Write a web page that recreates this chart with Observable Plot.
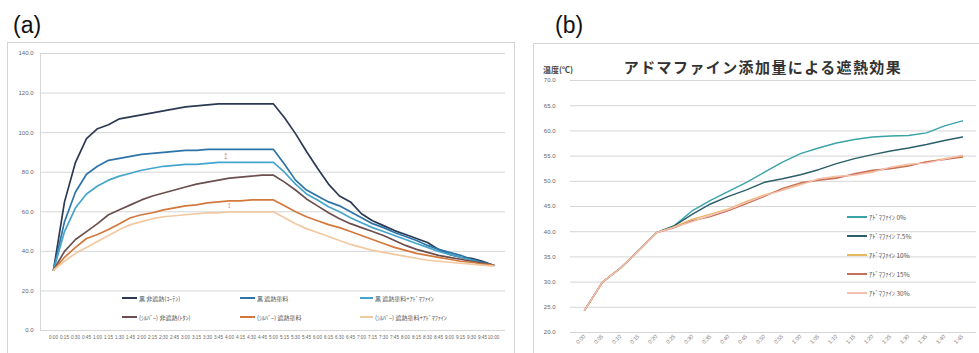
<!DOCTYPE html>
<html><head><meta charset="utf-8">
<script src="https://cdn.jsdelivr.net/npm/d3@7"></script>
<script src="https://cdn.jsdelivr.net/npm/@observablehq/plot@0.6"></script>
<style>
html,body{margin:0;padding:0;background:#fff;}
body{width:979px;height:353px;overflow:hidden;position:relative;font-family:"Liberation Sans",Arial,sans-serif;}
.abs{position:absolute;}
.panel{position:absolute;border:1px solid #d4d4d4;box-sizing:border-box;}
.lbl{position:absolute;font-size:23px;color:#111;font-family:"Liberation Sans",Arial,sans-serif;}
.leg{position:absolute;font-family:"Noto Sans CJK JP","Liberation Sans",sans-serif;color:#555;white-space:nowrap;display:flex;align-items:center;}
.leg .sw{display:inline-block;height:0;margin-right:2px;}
</style></head><body>
<div class="lbl" style="left:13px;top:12px;">(a)</div>
<div class="lbl" style="left:555px;top:12px;">(b)</div>
<div class="panel" style="left:7px;top:42px;width:508px;height:320px;"></div>
<div class="panel" style="left:533px;top:43px;width:460px;height:320px;"></div>
<div id="chartA" class="abs" style="left:7px;top:42px;"></div>
<div id="chartB" class="abs" style="left:535px;top:43px;"></div>
<div id="legA"></div>
<div id="legB"></div>
<div class="abs" style="left:763px;top:56px;transform:translateX(-50%);font-family:'Noto Sans CJK JP',sans-serif;font-weight:bold;font-size:15px;letter-spacing:1.4px;color:#333;white-space:nowrap;">アドマファイン添加量による遮熱効果</div>
<div class="abs" style="left:543px;top:64px;font-family:'Noto Sans CJK JP',sans-serif;font-weight:bold;font-size:8px;color:#444;">温度(℃)</div>
<div class="abs" style="left:223px;top:149px;font-size:11px;color:#e07a7a;">↕</div>
<div class="abs" style="left:227px;top:200px;font-size:9px;color:#e07a7a;">↕</div>
<script>
// ---------- Panel (a) ----------
const timeA = ["0:00","0:15","0:30","0:45","1:00","1:15","1:30","1:45","2:00","2:15","2:30","2:45","3:00","3:15","3:30","3:45","4:00","4:15","4:30","4:45","5:00","5:15","5:30","5:45","6:00","6:15","6:30","6:45","7:00","7:15","7:30","7:45","8:00","8:15","8:30","8:45","9:00","9:15","9:30","9:45","10:00"];
const yTicksA = [0,20,40,60,80,100,120,140];
const namesA = ["黒 非遮熱(ｺｰﾃﾝ)","黒 遮熱塗料","黒 遮熱塗料+ｱﾄﾞﾏﾌｧｲﾝ","(ｼﾙﾊﾞｰ) 非遮熱(ﾄﾀﾝ)","(ｼﾙﾊﾞｰ) 遮熱塗料","(ｼﾙﾊﾞｰ) 遮熱塗料+ｱﾄﾞﾏﾌｧｲﾝ"];
const colorsA = ["#2b3a52","#2e74a8","#45a5cc","#6b4f4f","#d2783c","#f2c8a0"];
const a1 = [30.5,65,85,97,102,104,107,108,109,110,111,112,113,113.5,114,114.5,114.5,114.5,114.5,114.5,114.5,107.5,99.5,90.5,82,74,68,65,59,55.5,53,50.5,48.5,46.5,44.5,41,38.5,37,36.5,35,33];
const a2 = [30.5,55,70,79,83,86,87,88,89,89.5,90,90.5,91,91,91.5,91.5,91.5,91.5,91.5,91.5,91.5,84,76,71,68,65,63,60,57,54,52,49.5,47.5,45.5,43,41,39.5,38,36,34.5,33];
const a3 = [30.5,50,62,69,73,76,78,79.5,81,82,83,83.5,84,84,84.5,85,85,85,85,85,85,80,74,69,66,62.5,60,57,54.5,52,50,48,46,44,42,40,38.5,37,35.5,34,33];
const a4 = [30.5,40,46,50,54,58.5,61,63.5,66,68,69.5,71,72.5,74,75,76,77,77.5,78,78.5,78.5,75,71,66.5,63,59.5,56.5,54,52,50,48,45.5,43,41,39.5,38,37,36,35,34,33];
const a5 = [30.5,37,42,46.5,48.5,51,54,57,58.5,59.5,61,62,63,63.5,64.5,65,65.5,65.5,66,66,66,63,60,57.5,55.5,53.5,52,50,48,46,44,42,40.5,39,38,37,36,35,34.5,33.5,33];
const a6 = [30.5,35,39,42,45,48,51,53.5,55,56.5,57.5,58,58.5,59,59.5,59.5,60,60,60,60,60,57,54,51.5,49.5,47.5,45.5,43.5,42,40.5,39.5,38.5,37.5,36.5,35.5,35,34.5,34,33.5,33,32.5];

// ---------- Panel (b) ----------
const timeB = ["0:00","0:05","0:10","0:15","0:20","0:25","0:30","0:35","0:40","0:45","0:50","0:55","1:00","1:05","1:10","1:15","1:20","1:25","1:30","1:35","1:40","1:45"];
const yTicksB = [20,25,30,35,40,45,50,55,60,65,70];
const namesB = ["ｱﾄﾞﾏﾌｧｲﾝ 0%","ｱﾄﾞﾏﾌｧｲﾝ 7.5%","ｱﾄﾞﾏﾌｧｲﾝ 10%","ｱﾄﾞﾏﾌｧｲﾝ 15%","ｱﾄﾞﾏﾌｧｲﾝ 30%"];
const colorsB = ["#3aa3a8","#2a5f6a","#e8b860","#c8705a","#f5c0b0"];
const b1 = [24.4,30,32.8,36.2,39.8,41.2,44.2,46.2,48,49.8,51.8,53.8,55.5,56.6,57.6,58.3,58.8,59,59.1,59.6,61,62];
const b2 = [24.4,30,32.8,36.2,39.8,41.2,43.5,45.5,47,48.3,49.8,50.5,51.3,52.3,53.5,54.5,55.3,56,56.6,57.3,58.1,58.8];
const b3 = [24.4,30,32.8,36.2,39.8,41,42.5,43.5,44.5,46,47.3,48.3,49.5,50.3,50.8,51.3,52,52.6,53.2,53.8,54.5,55];
const b4 = [24.4,30,32.8,36.2,39.8,40.8,42.2,43,44.2,45.6,47,48.6,49.7,50.2,50.6,51.5,52.2,52.5,53,53.9,54.3,54.8];
const b5 = [24.4,30,32.8,36.2,39.8,40.9,42,43.3,44.4,45.8,47.2,48.2,49.3,50.5,51,51.2,51.8,52.8,53.4,53.6,54.4,55.2];

function toLong(names, seriesList, times) {
  const out = [];
  seriesList.forEach((vals, k) => vals.forEach((v, i) => out.push({t: times[i], v, s: names[k]})));
  return out;
}
const dataA = toLong(namesA, [a1,a2,a3,a4,a5,a6], timeA);
const dataB = toLong(namesB, [b1,b2,b3,b4,b5], timeB);

const plotA = Plot.plot({
  width: 508, height: 311,
  marginTop: 11, marginBottom: 23, marginLeft: 33, marginRight: 10,
  style: {background: "transparent", fontFamily: "Liberation Sans, Arial, sans-serif"},
  x: {type: "point", domain: timeA, padding: 0.44, label: null},
  y: {domain: [0, 140], label: null},
  color: {domain: namesA, range: colorsA},
  marks: [
    Plot.ruleY(yTicksA, {stroke: "#d6d6d6", strokeWidth: 1}),
    Plot.frame({anchor: "left", stroke: "#d6d6d6"}),
    Plot.axisY({ticks: yTicksA, tickSize: 0, tickPadding: 7, fontSize: 6, tickFormat: d => d.toFixed(1), fill: "#666"}),
    Plot.axisX({tickSize: 0, tickPadding: 5, fontSize: 4.6, fill: "#666"}),
    Plot.lineY(dataA, {x: "t", y: "v", stroke: "s", strokeWidth: 1.7})
  ]
});
document.getElementById("chartA").append(plotA);

const plotB = Plot.plot({
  width: 444, height: 310,
  marginTop: 37, marginBottom: 21, marginLeft: 35, marginRight: 3,
  style: {background: "transparent", fontFamily: "Liberation Sans, Arial, sans-serif"},
  x: {type: "point", domain: timeB, padding: 0.43, label: null},
  y: {domain: [20, 70], label: null},
  color: {domain: namesB, range: colorsB},
  marks: [
    Plot.ruleY(yTicksB, {stroke: "#d6d6d6", strokeWidth: 1}),
    Plot.axisY({ticks: yTicksB, tickSize: 0, tickPadding: 15, fontSize: 6, tickFormat: d => d.toFixed(1), fill: "#666"}),
    Plot.axisX({tickSize: 0, tickPadding: 3, fontSize: 5.5, tickRotate: -45, fill: "#777"}),
    Plot.lineY(dataB, {x: "t", y: "v", stroke: "s", strokeWidth: 1.4})
  ]
});
document.getElementById("chartB").append(plotB);

// legends
const legA = document.getElementById("legA");
const colX = [[122,15],[240,15],[360,13]];
const rowY = [298,317];
namesA.forEach((n, k) => {
  const r = Math.floor(k / 3), c = k % 3;
  const d = document.createElement("div");
  d.className = "leg";
  d.style.left = colX[c][0] + "px";
  d.style.top = (rowY[r] - 5) + "px";
  d.style.height = "10px";
  d.style.fontSize = "6px";
  d.innerHTML = `<span class="sw" style="width:${colX[c][1]}px;border-top:2px solid ${colorsA[k]}"></span>${n}`;
  legA.append(d);
});
const legB = document.getElementById("legB");
const rowB = [217,236,255,274,293];
namesB.forEach((n, k) => {
  const d = document.createElement("div");
  d.className = "leg";
  d.style.left = "847px";
  d.style.top = (rowB[k] - 5) + "px";
  d.style.height = "10px";
  d.style.fontSize = "6.5px";
  d.innerHTML = `<span class="sw" style="width:20px;border-top:2px solid ${colorsB[k]}"></span>${n}`;
  legB.append(d);
});
</script>
</body></html>
